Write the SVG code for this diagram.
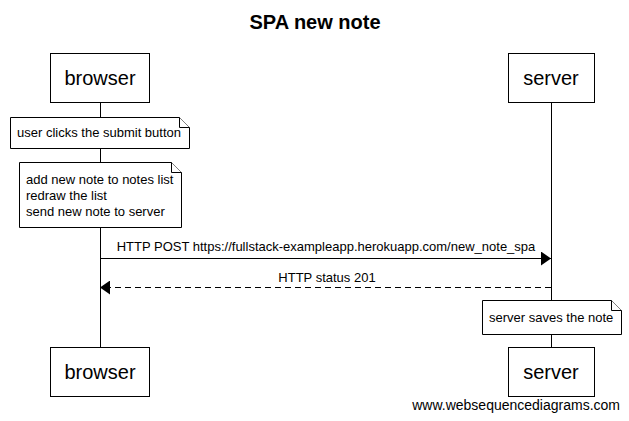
<svg xmlns="http://www.w3.org/2000/svg" width="629" height="421" viewBox="0 0 629 421">
<style>
text{font-family:"Liberation Sans",Arial,sans-serif;fill:#000}
.box{fill:#fff;stroke:#000;stroke-width:1}
.life{stroke:#000;stroke-width:1}
.note{fill:#fff;stroke:#000;stroke-width:1}
.actor{font-size:20px;text-anchor:middle}
.lbl{font-size:13px}
.msg{fill:none;stroke:#000;stroke-width:1}
</style>
<defs>
<marker id="ah" markerWidth="10" markerHeight="14" refX="10" refY="7" orient="auto" markerUnits="userSpaceOnUse">
<path d="M0,0 L10,7 L0,14 Z" fill="#000"/>
</marker>
</defs>
<text x="315" y="29" font-size="20" font-weight="bold" text-anchor="middle">SPA new note</text>
<g id="lifelines">
<line class="life" x1="100.5" y1="103" x2="100.5" y2="347"/>
<line class="life" x1="551.5" y1="103" x2="551.5" y2="347"/>
</g>
<g id="browser-top"><rect class="box" x="50.5" y="53.5" width="99" height="49"/><text class="actor" x="100" y="85">browser</text></g>
<g id="server-top"><rect class="box" x="508.5" y="53.5" width="86" height="49"/><text class="actor" x="551" y="85">server</text></g>
<g id="browser-bottom"><rect class="box" x="50.5" y="347.5" width="99" height="49"/><text class="actor" x="100" y="379">browser</text></g>
<g id="server-bottom"><rect class="box" x="508.5" y="347.5" width="86" height="49"/><text class="actor" x="551" y="379">server</text></g>
<g id="note1">
<path class="note" d="M10.5,117.5 H179.5 L189.5,127.5 V148.5 H10.5 Z"/>
<path class="note" d="M179.5,117.5 V127.5 H189.5" fill="none"/>
<text class="lbl" x="17" y="137">user clicks the submit button</text>
</g>
<g id="note2">
<path class="note" d="M19.5,162.5 H171.5 L181.5,172.5 V227.5 H19.5 Z"/>
<path class="note" d="M171.5,162.5 V172.5 H181.5" fill="none"/>
<text class="lbl" x="26" y="184">add new note to notes list</text>
<text class="lbl" x="26" y="200">redraw the list</text>
<text class="lbl" x="26" y="216">send new note to server</text>
</g>
<g id="note3">
<path class="note" d="M482.5,300.5 H611.5 L621.5,310.5 V334.5 H482.5 Z"/>
<path class="note" d="M611.5,300.5 V310.5 H621.5" fill="none"/>
<text class="lbl" x="489" y="322">server saves the note</text>
</g>
<g id="connectors">
<line class="msg" x1="100" y1="258.5" x2="551" y2="258.5" marker-end="url(#ah)"/>
<text class="lbl" x="326" y="251" text-anchor="middle">HTTP POST https://fullstack-exampleapp.herokuapp.com/new_note_spa</text>
<line class="msg" x1="551" y1="287.5" x2="100" y2="287.5" stroke-dasharray="6,4" marker-end="url(#ah)"/>
<text class="lbl" x="327" y="282" text-anchor="middle">HTTP status 201</text>
</g>
<text x="620" y="410" font-size="14" text-anchor="end">www.websequencediagrams.com</text>
</svg>
